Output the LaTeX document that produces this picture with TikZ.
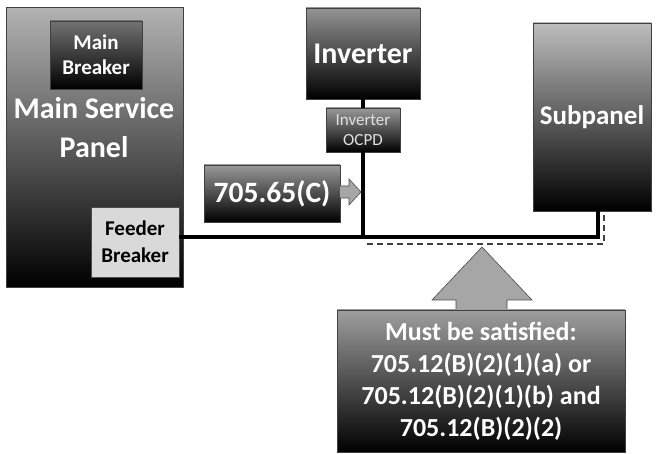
\documentclass[tikz,border=0pt]{standalone}
\usepackage{fontspec}
\setmainfont{Carlito}
\usetikzlibrary{positioning}

\tikzset{
  panel/.style={draw=black!75, line width=0.6pt, top color=black!35, bottom color=black,
    text=white, align=center, inner sep=0pt, font=\bfseries},
  lightbox/.style={draw=black!70, line width=0.6pt, fill=black!15, text=black,
    align=center, inner sep=0pt, font=\bfseries\fontsize{21}{27}\selectfont},
  bus/.style={line width=4pt, black},
  fault/.style={line width=1.5pt, black!75, dash pattern=on 6pt off 4pt},
  arrowfill/.style={draw=black!70, line width=0.6pt, fill=black!35}
}

\begin{document}
\begin{tikzpicture}[x=1pt,y=-1pt]
\useasboundingbox (0,0) rectangle (657,454);

% main service panel
\node[panel, minimum width=177pt, minimum height=280pt, top color=black!30] (msp) at (94.5,147.5) {};
\node[text=white, align=center, font=\bfseries\fontsize{30}{39}\selectfont] (msplbl) at (94,128) {Main Service\\Panel};
\node[panel, minimum width=92pt, minimum height=68pt, top color=black!55,
  font=\bfseries\fontsize{21}{25}\selectfont] (mb) at (96,55) {Main\\Breaker};
\node[lightbox, minimum width=88pt, minimum height=70pt] (fb) at (135,242) {Feeder\\Breaker};

% inverter side
\node[panel, minimum width=114pt, minimum height=91pt, top color=black!42,
  font=\bfseries\fontsize{30}{33}\selectfont] (inv) at (363,53.5) {Inverter};
\node[panel, minimum width=74pt, minimum height=44pt, top color=black!40, text=black!12,
  font=\fontsize{17}{20}\selectfont] (ocpd) at (363,130) {Inverter\\OCPD};
\node[panel, minimum width=136pt, minimum height=57pt, top color=black!40,
  font=\bfseries\fontsize{29.5}{32}\selectfont] (art) at (272,193.5) {705.65(C)};
\draw[arrowfill] (340,186) -- (349,186) -- (349,179) -- (361,192) -- (349,205) -- (349,198) -- (340,198);

% subpanel
\node[panel, minimum width=118pt, minimum height=188pt, top color=black!26,
  font=\bfseries\fontsize{27}{30}\selectfont] (sp) at (592,117) {Subpanel};

% conductors
\coordinate (tap) at (363,237);
\coordinate (sptap) at (598,237);
\draw[bus] (inv) -- (ocpd);
\draw[bus] (ocpd) -- (tap);
\draw[bus] (fb.east |- tap) -- (sptap) -- (sptap |- sp.south);

% feeder section in question
\coordinate (dsa) at (367,244);
\coordinate (dsb) at (604,244);
\draw[fault] (dsa) -- (dsb) -- (dsb |- sp.south);

% callout
\draw[arrowfill] (482,247) -- (532,300) -- (507,300) -- (507,311) -- (456,311) -- (456,300) -- (432,300) -- cycle;
\node[panel, minimum width=288pt, minimum height=142pt, top color=black!38,
  font=\bfseries\fontsize{26}{32}\selectfont] (req) at (481,381)
  {Must be satisfied:\\705.12(B)(2)(1)(a) or\\705.12(B)(2)(1)(b) and\\705.12(B)(2)(2)};
\end{tikzpicture}
\end{document}
